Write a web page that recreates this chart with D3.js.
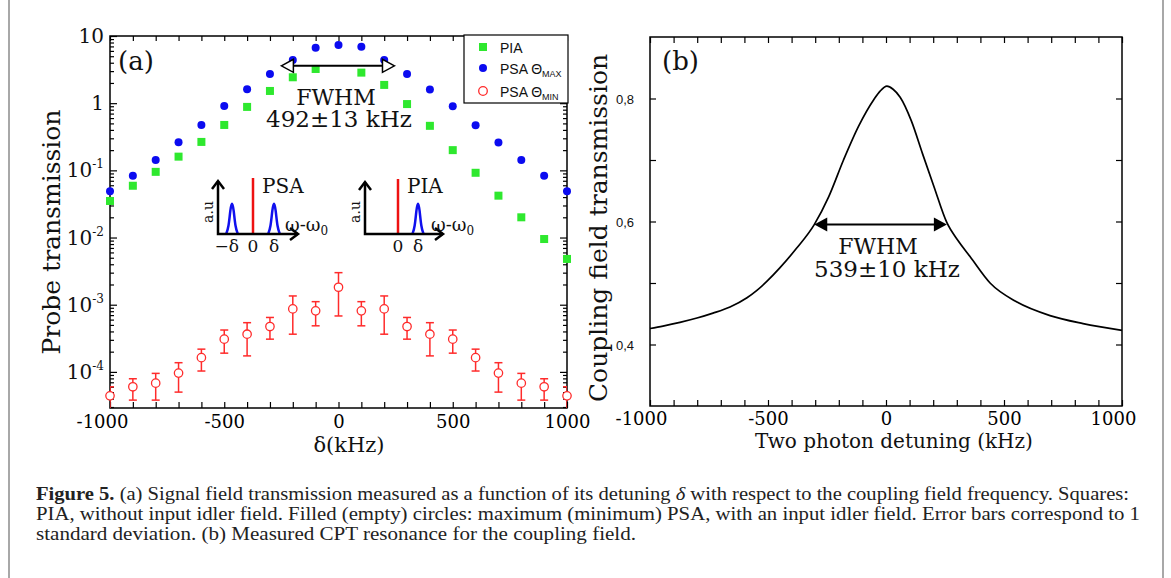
<!DOCTYPE html>
<html>
<head>
<meta charset="utf-8">
<script src="https://cdnjs.cloudflare.com/ajax/libs/d3/7.8.5/d3.min.js"></script>
<style>
  body { margin:0; background:#fff; }
  .serif { font-family:"DejaVu Serif", serif; fill:#111; }
  .sans { font-family:"Liberation Sans", Arial, sans-serif; fill:#111; }
  .cap { font-family:"Liberation Serif", "Times New Roman", serif; fill:#222; font-size:18px; }
  .frame { fill:none; stroke:#000; stroke-width:1.5; }
  .tick line { stroke:#000; stroke-width:1.2; }
</style>
</head>
<body>
<svg id="fig" width="1171" height="578"></svg>
<script>
// ---- values ----
var detuning = [-1000,-900,-800,-700,-600,-500,-400,-300,-200,-100,0,100,200,300,400,500,600,700,800,900,1000];
var psaMax   = [0.049,0.083,0.143,0.262,0.474,0.908,1.61,2.72,4.4,6.7,7.35,6.9,4.4,2.72,1.6,0.9,0.47,0.26,0.143,0.083,0.049];
var piaDetuning = [-1000,-900,-800,-700,-600,-500,-400,-300,-200,-100,100,200,300,400,500,600,700,800,900,1000];
var pia      = [0.035,0.059,0.095,0.16,0.265,0.474,0.88,1.52,2.43,3.23,2.85,1.87,0.97,0.46,0.20,0.092,0.042,0.020,0.0095,0.0048];
var psaMin   = [4.4e-5,6.0e-5,6.8e-5,9.6e-5,1.63e-4,3.07e-4,3.64e-4,4.73e-4,8.66e-4,8.1e-4,1.82e-3,8.1e-4,8.66e-4,4.73e-4,3.64e-4,3.07e-4,1.63e-4,9.6e-5,6.8e-5,6.0e-5,4.4e-5];
var psaMinHi = [6.0e-5,7.9e-5,9.5e-5,1.37e-4,2.18e-4,4.2e-4,5.4e-4,6.46e-4,1.35e-3,1.11e-3,3.0e-3,1.11e-3,1.35e-3,6.46e-4,5.4e-4,4.2e-4,2.18e-4,1.37e-4,9.5e-5,7.9e-5,6.0e-5];
var psaMinLo = [2.6e-5,3.8e-5,3.8e-5,5.0e-5,1.03e-4,1.9e-4,1.73e-4,3.07e-4,3.64e-4,4.85e-4,6.8e-4,4.85e-4,3.64e-4,3.07e-4,1.73e-4,1.9e-4,1.03e-4,5.0e-5,3.8e-5,3.8e-5,2.6e-5];
var yDecades = [1e-4,1e-3,1e-2,1e-1,1,10];

var cptDetuning = [-1000,-945,-873,-801,-733,-661,-589,-547,-504,-449,-380,-304,-243,-180,-116,-52,-25,4,30,60,107,155,203,258,305,356,441,555,695,835,1000];
var cptTrans    = [0.426,0.430,0.436,0.443,0.451,0.461,0.476,0.488,0.503,0.525,0.556,0.595,0.640,0.700,0.755,0.798,0.812,0.820,0.815,0.802,0.764,0.710,0.657,0.598,0.569,0.543,0.500,0.469,0.447,0.434,0.423];
var yTicksB = [0.4,0.5,0.6,0.7,0.8];
var yLabelsB = [0.4,0.6,0.8];

// schematic peak shape for the insets (offset in units of delta, relative height)
var peakShape = [[-0.28,0],[-0.16,0.2],[-0.08,0.75],[0,1],[0.08,0.75],[0.16,0.2],[0.28,0]];

var svg = d3.select("#fig");

// side rules of the figure box
svg.append("line").attr("x1",9).attr("x2",9).attr("y1",0).attr("y2",578).attr("stroke","#a8a8a8").attr("stroke-width",2);
svg.append("line").attr("x1",1163).attr("x2",1163).attr("y1",0).attr("y2",578).attr("stroke","#a8a8a8").attr("stroke-width",2);

function styleAxis(g){
  g.select(".domain").remove();
  g.attr("font-family","DejaVu Serif").attr("font-size",18);
}

// ================= panel (a) =================
var A = {l:110, r:567, t:36, b:408};
var xA = d3.scaleLinear().domain([-1000,1000]).range([A.l, A.r]);
var yA = d3.scaleLog().domain([2.9e-5, 10]).range([A.b, A.t]);
var every100 = d3.range(-1000, 1001, 100);
var minorA = yA.ticks().filter(function(v){ return Math.abs(Math.log10(v) - Math.round(Math.log10(v))) > 1e-6; });

var gA = svg.append("g");
gA.append("g").attr("transform","translate(0,"+A.b+")")
  .call(d3.axisBottom(xA).tickValues(every100).tickSize(-6)
        .tickFormat(function(d){ return d % 500 === 0 ? d : ""; }))
  .call(styleAxis)
  .selectAll("text").attr("y",20).attr("dy",null)
  .attr("dx", function(d){ return d === -1000 ? -8 : 0; });
gA.append("g").attr("transform","translate(0,"+A.t+")")
  .call(d3.axisTop(xA).tickValues(every100).tickSize(-5).tickFormat(""))
  .call(styleAxis);
[[A.l, d3.axisLeft], [A.r, d3.axisRight]].forEach(function(s){
  gA.append("g").attr("transform","translate("+s[0]+",0)")
    .call(s[1](yA).tickValues(yDecades).tickSize(-7).tickFormat(""))
    .call(styleAxis);
  gA.append("g").attr("transform","translate("+s[0]+",0)")
    .call(s[1](yA).tickValues(minorA).tickSize(-4).tickFormat(""))
    .call(styleAxis);
});
gA.append("rect").attr("class","frame").attr("x",A.l).attr("y",A.t).attr("width",A.r-A.l).attr("height",A.b-A.t);

// decade labels
yDecades.forEach(function(d){
  var e = Math.round(Math.log10(d));
  var t = gA.append("text").attr("class","serif").attr("font-size",20)
    .attr("x", A.l-6).attr("y", yA(d)+7).attr("text-anchor","end");
  if (e === 1) t.text("10");
  else if (e === 0) t.text("1");
  else { t.append("tspan").text("10"); t.append("tspan").attr("dy",-9).attr("font-size",12).text(e); }
});

gA.append("text").attr("class","serif").attr("font-size",25).attr("text-anchor","middle")
  .attr("transform","translate(60,232) rotate(-90)").text("Probe transmission");
gA.append("text").attr("class","serif").attr("font-size",21).attr("text-anchor","middle")
  .attr("x",349).attr("y",452).text("δ(kHz)");
gA.append("text").attr("class","serif").attr("font-size",26).attr("x",118).attr("y",70).text("(a)");

// marks
svg.append("clipPath").attr("id","clipA").append("rect")
  .attr("x",A.l).attr("y",A.t).attr("width",A.r-A.l).attr("height",A.b-A.t);
var red = "#ff2b2b", blue = "#0b0bf0", green = "#2ee82e";
var eb = gA.append("g").attr("clip-path","url(#clipA)").attr("stroke",red).attr("stroke-width",1.5);
detuning.forEach(function(d,i){
  var x = xA(d);
  eb.append("line").attr("x1",x).attr("x2",x).attr("y1",yA(psaMinLo[i])).attr("y2",yA(psaMinHi[i]));
  eb.append("line").attr("x1",x-4).attr("x2",x+4).attr("y1",yA(psaMinHi[i])).attr("y2",yA(psaMinHi[i]));
  eb.append("line").attr("x1",x-4).attr("x2",x+4).attr("y1",yA(psaMinLo[i])).attr("y2",yA(psaMinLo[i]));
});
gA.selectAll("circle.min").data(detuning).enter().append("circle")
  .attr("cx",function(d){ return xA(d); }).attr("cy",function(d,i){ return yA(psaMin[i]); })
  .attr("r",4.2).attr("fill","#fff").attr("stroke",red).attr("stroke-width",1.3);
gA.selectAll("rect.pia").data(piaDetuning).enter().append("rect")
  .attr("x",function(d){ return xA(d)-4; }).attr("y",function(d,i){ return yA(pia[i])-4; })
  .attr("width",8).attr("height",8).attr("fill",green);
gA.selectAll("circle.max").data(detuning).enter().append("circle")
  .attr("cx",function(d){ return xA(d); }).attr("cy",function(d,i){ return yA(psaMax[i]); })
  .attr("r",4).attr("fill",blue);

// FWHM arrow (a): open heads
var fwA = {from:-250, to:245, level:3.6};
var ay = yA(fwA.level), ax1 = xA(fwA.from), ax2 = xA(fwA.to);
gA.append("line").attr("x1",ax1+11).attr("x2",ax2-11).attr("y1",ay).attr("y2",ay).attr("stroke","#000").attr("stroke-width",2);
[[ax1,1],[ax2,-1]].forEach(function(p){
  gA.append("path").attr("d","M"+p[0]+","+ay+"L"+(p[0]+p[1]*12)+","+(ay-6.5)+"L"+(p[0]+p[1]*12)+","+(ay+6.5)+"Z")
    .attr("fill","#fff").attr("stroke","#000").attr("stroke-width",1.5);
});
gA.append("text").attr("class","serif").attr("font-size",22).attr("text-anchor","middle").attr("x",336).attr("y",105).text("FWHM");
gA.append("text").attr("class","serif").attr("font-size",23).attr("text-anchor","middle").attr("x",339).attr("y",127).text("492±13 kHz");

// legend
var lg = gA.append("g");
lg.append("rect").attr("x",464).attr("y",35).attr("width",104).attr("height",68).attr("fill","#fff").attr("stroke","#000").attr("stroke-width",1.2);
lg.append("rect").attr("x",479).attr("y",43).attr("width",8).attr("height",8).attr("fill",green);
lg.append("circle").attr("cx",483).attr("cy",68).attr("r",4).attr("fill",blue);
lg.append("circle").attr("cx",483).attr("cy",91).attr("r",4.3).attr("fill","#fff").attr("stroke",red).attr("stroke-width",1.3);
lg.append("text").attr("class","sans").attr("font-size",14).attr("x",500).attr("y",53).text("PIA");
[["MAX",74],["MIN",97]].forEach(function(s){
  var t = lg.append("text").attr("class","sans").attr("font-size",14).attr("x",500).attr("y",s[1]);
  t.append("tspan").text("PSA Θ");
  t.append("tspan").attr("dy",3).attr("font-size",9).text(s[0]);
});

// insets (schematic spectra)
function inset(o){
  var g = gA.append("g");
  var sx = d3.scaleLinear().domain([0,1]).range([o.zero, o.zero+o.unit]);
  g.append("line").attr("x1",sx(0)).attr("x2",sx(0)).attr("y1",o.oy).attr("y2",o.oy-o.redH).attr("stroke","#ee1111").attr("stroke-width",2.5);
  var pk = d3.line().curve(d3.curveBasis);
  o.peaks.forEach(function(p){
    g.append("path").attr("d", pk(peakShape.map(function(s){ return [sx(p+s[0]), o.oy - s[1]*o.peakH]; })))
      .attr("fill","none").attr("stroke","#1010ee").attr("stroke-width",2.5);
  });
  g.append("path").attr("d","M"+o.ox+","+(o.oy-o.yLen)+"V"+o.oy+"H"+o.xEnd)
    .attr("fill","none").attr("stroke","#000").attr("stroke-width",2.5);
  g.append("path").attr("d","M"+(o.ox-6)+","+(o.oy-o.yLen+8)+"L"+o.ox+","+(o.oy-o.yLen)+"L"+(o.ox+6)+","+(o.oy-o.yLen+8))
    .attr("fill","none").attr("stroke","#000").attr("stroke-width",2.5);
  g.append("path").attr("d","M"+(o.xEnd-8)+","+(o.oy-6)+"L"+o.xEnd+","+o.oy+"L"+(o.xEnd-8)+","+(o.oy+6))
    .attr("fill","none").attr("stroke","#000").attr("stroke-width",2.5);
  g.append("text").attr("class","serif").attr("font-size",20).attr("x",sx(0)+9).attr("y",o.oy-41).text(o.name);
  g.append("text").attr("class","serif").attr("font-size",14).attr("text-anchor","middle")
    .attr("transform","translate("+(o.ox-5)+","+(o.oy-22)+") rotate(-90)").text("a.u");
  var w = g.append("text").attr("class","serif").attr("font-size",18).attr("x",o.wx).attr("y",o.oy-3);
  w.append("tspan").text("ω-ω"); w.append("tspan").attr("dy",4).attr("font-size",12).text("0");
  o.labels.forEach(function(l){
    g.append("text").attr("class","serif").attr("font-size",17).attr("text-anchor","middle")
      .attr("x",sx(l[0])).attr("y",o.oy+18).text(l[1]);
  });
}
inset({name:"PSA", ox:218, oy:234, zero:253, unit:21, xEnd:298, yLen:53, redH:56, peakH:33, wx:285,
       peaks:[-1,1], labels:[[-1.25,"−δ"],[0,"0"],[1,"δ"]]});
inset({name:"PIA", ox:365, oy:234, zero:398, unit:20, xEnd:443, yLen:52, redH:55, peakH:33, wx:431,
       peaks:[1], labels:[[0,"0"],[1,"δ"]]});

// ================= panel (b) =================
var B = {l:650, r:1122, t:37, b:406};
var xB = d3.scaleLinear().domain([-1000,1000]).range([B.l, B.r]);
var yB = d3.scaleLinear().domain([0.3,0.9]).range([B.b, B.t]);
var gB = svg.append("g");
gB.append("g").attr("transform","translate(0,"+B.b+")")
  .call(d3.axisBottom(xB).tickValues(every100).tickSize(-6)
        .tickFormat(function(d){ return d % 500 === 0 ? d : ""; }))
  .call(styleAxis)
  .selectAll("text").attr("y",19).attr("dy",null)
  .attr("dx", function(d){ return Math.abs(d) === 1000 ? -9 : 0; });
gB.append("g").attr("transform","translate(0,"+B.t+")")
  .call(d3.axisTop(xB).tickValues(every100).tickSize(-6).tickFormat(""))
  .call(styleAxis);
gB.append("g").attr("transform","translate("+B.l+",0)")
  .call(d3.axisLeft(yB).tickValues(yTicksB).tickSize(-6).tickFormat(""))
  .call(styleAxis);
gB.append("g").attr("transform","translate("+B.r+",0)")
  .call(d3.axisRight(yB).tickValues(yTicksB).tickSize(-6).tickFormat(""))
  .call(styleAxis);
gB.append("rect").attr("class","frame").attr("x",B.l).attr("y",B.t).attr("width",B.r-B.l).attr("height",B.b-B.t);
yLabelsB.forEach(function(v){
  gB.append("text").attr("class","sans").attr("font-size",13).attr("text-anchor","end")
    .attr("x",634).attr("y",yB(v)+5).text(d3.format(".1f")(v).replace(".",","));
});

gB.append("path")
  .attr("d", d3.line().curve(d3.curveMonotoneX)(cptDetuning.map(function(d,i){ return [xB(d), yB(cptTrans[i])]; })))
  .attr("fill","none").attr("stroke","#000").attr("stroke-width",1.7);

var fwB = {from:-304, to:258, level:0.595};
var by = yB(fwB.level), bx1 = xB(fwB.from), bx2 = xB(fwB.to);
gB.append("line").attr("x1",bx1+12).attr("x2",bx2-12).attr("y1",by).attr("y2",by).attr("stroke","#000").attr("stroke-width",2);
[[bx1,1],[bx2,-1]].forEach(function(p){
  gB.append("path").attr("d","M"+p[0]+","+by+"L"+(p[0]+p[1]*13)+","+(by-7)+"L"+(p[0]+p[1]*13)+","+(by+7)+"Z").attr("fill","#000");
});
gB.append("text").attr("class","serif").attr("font-size",22).attr("text-anchor","middle").attr("x",878).attr("y",254).text("FWHM");
gB.append("text").attr("class","serif").attr("font-size",23).attr("text-anchor","middle").attr("x",887).attr("y",277).text("539±10 kHz");
gB.append("text").attr("class","serif").attr("font-size",26).attr("x",662).attr("y",70).text("(b)");
gB.append("text").attr("class","serif").attr("font-size",25).attr("text-anchor","middle")
  .attr("transform","translate(607,228) rotate(-90)").text("Coupling field transmission");
gB.append("text").attr("class","serif").attr("font-size",20).attr("text-anchor","middle")
  .attr("x",894).attr("y",448).text("Two photon detuning (kHz)");

// ================= caption =================
var c1 = svg.append("text").attr("class","cap").attr("x",36).attr("y",500)
  .attr("textLength",1093).attr("lengthAdjust","spacingAndGlyphs");
c1.append("tspan").attr("font-weight","bold").text("Figure 5.");
c1.append("tspan").text(" (a) Signal field transmission measured as a function of its detuning ");
c1.append("tspan").attr("font-style","italic").text("δ");
c1.append("tspan").text(" with respect to the coupling field frequency. Squares:");
svg.append("text").attr("class","cap").attr("x",36).attr("y",520)
  .attr("textLength",1104).attr("lengthAdjust","spacingAndGlyphs")
  .text("PIA, without input idler field. Filled (empty) circles: maximum (minimum) PSA, with an input idler field. Error bars correspond to 1");
svg.append("text").attr("class","cap").attr("x",36).attr("y",540)
  .attr("textLength",600).attr("lengthAdjust","spacingAndGlyphs")
  .text("standard deviation. (b) Measured CPT resonance for the coupling field.");
</script>
</body>
</html>
